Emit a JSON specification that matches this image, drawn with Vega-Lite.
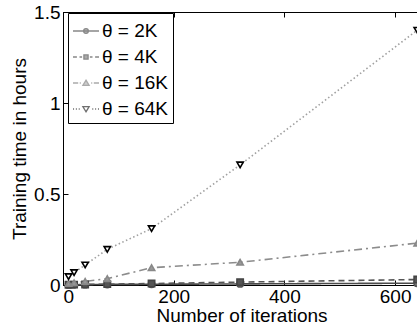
{
  "$schema": "https://vega.github.io/schema/vega-lite/v6.json",
  "width": 357,
  "height": 273,
  "autosize": "none",
  "padding": {"left": 63, "top": 12, "right": 0, "bottom": 46},
  "config": {
    "view": {"stroke": "black", "strokeWidth": 1},
    "font": "Liberation Sans",
    "axis": {
      "domainColor": "black", "tickColor": "black", "labelColor": "black", "titleColor": "black",
      "labelFont": "Liberation Sans", "titleFont": "Liberation Sans", "labelFontSize": 19, "titleFontSize": 19,
      "titleFontWeight": "normal", "grid": false, "tickSize": -5, "domainWidth": 1
    }
  },
  "data": {"values": [
    {"x": 10, "y": 0.0005, "series": "2K"}, {"x": 20, "y": 0.001, "series": "2K"}, {"x": 40, "y": 0.002, "series": "2K"}, {"x": 80, "y": 0.003, "series": "2K"}, {"x": 160, "y": 0.004, "series": "2K"}, {"x": 320, "y": 0.006, "series": "2K"}, {"x": 640, "y": 0.01, "series": "2K"},
    {"x": 10, "y": 0.001, "series": "4K"}, {"x": 20, "y": 0.002, "series": "4K"}, {"x": 40, "y": 0.003, "series": "4K"}, {"x": 80, "y": 0.005, "series": "4K"}, {"x": 160, "y": 0.008, "series": "4K"}, {"x": 320, "y": 0.016, "series": "4K"}, {"x": 640, "y": 0.03, "series": "4K"},
    {"x": 10, "y": 0.008, "series": "16K"}, {"x": 20, "y": 0.012, "series": "16K"}, {"x": 40, "y": 0.02, "series": "16K"}, {"x": 80, "y": 0.035, "series": "16K"}, {"x": 160, "y": 0.095, "series": "16K"}, {"x": 320, "y": 0.125, "series": "16K"}, {"x": 640, "y": 0.23, "series": "16K"},
    {"x": 10, "y": 0.046, "series": "64K"}, {"x": 20, "y": 0.068, "series": "64K"}, {"x": 40, "y": 0.11, "series": "64K"}, {"x": 80, "y": 0.196, "series": "64K"}, {"x": 160, "y": 0.31, "series": "64K"}, {"x": 320, "y": 0.66, "series": "64K"}, {"x": 640, "y": 1.4, "series": "64K"}
  ]},
  "resolve": {
    "scale": {"shape": "independent", "stroke": "independent", "fill": "independent", "color": "independent", "strokeDash": "independent"},
    "axis": {"x": "independent", "y": "independent"},
    "legend": {"shape": "independent", "stroke": "independent", "fill": "independent", "color": "independent", "strokeDash": "independent"}
  },
  "layer": [
    {
      "mark": {"type": "line", "strokeWidth": 1.6},
      "encoding": {
        "x": {"field": "x", "type": "quantitative", "scale": {"domain": [0, 645], "nice": false, "zero": false},
              "axis": {"values": [0, 200, 400, 600], "title": "Number of iterations", "titlePadding": 0, "labelPadding": 7, "domain": true}},
        "y": {"field": "y", "type": "quantitative", "scale": {"domain": [0, 1.5], "nice": false},
              "axis": {"values": [0, 0.5, 1, 1.5], "format": "~g", "title": "Training time in hours", "titlePadding": 4, "labelPadding": 8}},
        "color": {"field": "series", "type": "nominal", "scale": {"domain": ["2K", "4K", "16K", "64K"], "range": ["#4a4a4a", "#555555", "#8c8c8c", "#a0a0a0"]}, "legend": null},
        "strokeDash": {"field": "series", "type": "nominal", "scale": {"domain": ["2K", "4K", "16K", "64K"], "range": [[1, 0], [6, 4], [8, 4, 2, 4], [1.5, 2.5]]}, "legend": null}
      }
    },
    {
      "mark": {"type": "point", "filled": false, "strokeWidth": 1.6, "opacity": 1},
      "encoding": {
        "x": {"field": "x", "type": "quantitative", "scale": {"domain": [0, 645], "nice": false, "zero": false},
              "axis": {"orient": "top", "values": [0, 200, 400, 600], "labels": false, "title": null, "domain": false}},
        "y": {"field": "y", "type": "quantitative", "scale": {"domain": [0, 1.5], "nice": false}, "axis": null},
        "shape": {"field": "series", "type": "nominal", "scale": {"domain": ["2K", "4K", "16K", "64K"], "range": ["circle", "square", "triangle-up", "triangle-down"]}, "legend": null},
        "fill": {"field": "series", "type": "nominal", "scale": {"domain": ["2K", "4K", "16K", "64K"], "range": ["#777777", "#555555", "#999999", "#ffffff"]}, "legend": null},
        "stroke": {"field": "series", "type": "nominal", "scale": {"domain": ["2K", "4K", "16K", "64K"], "range": ["#555555", "#444444", "#888888", "#000000"]}, "legend": null},
        "size": {"value": 40}
      }
    },
    {
      "transform": [{"filter": "datum.x < 0"}],
      "mark": {"type": "point", "filled": false, "strokeWidth": 1.2},
      "encoding": {
        "x": {"field": "x", "type": "quantitative", "scale": {"domain": [0, 645], "nice": false, "zero": false}, "axis": null},
        "y": {"field": "y", "type": "quantitative", "scale": {"domain": [0, 1.5], "nice": false}, "axis": null},
        "shape": {"field": "series", "type": "nominal",
          "scale": {"domain": ["2K", "4K", "16K", "64K"], "range": [
            "M-1,0H1M0.18,0A0.18,0.18 0 1,1 -0.18,0A0.18,0.18 0 1,1 0.18,0Z",
            "M-1,0H-0.7M-0.5,0H-0.3M0.3,0H0.5M0.7,0H1M-0.16,-0.16H0.16V0.16H-0.16Z",
            "M-1,0H-0.6M-0.48,0H-0.4M0.4,0H0.48M0.6,0H1M0,-0.22L0.24,0.18L-0.24,0.18Z",
            "M-1,0H-0.92M-0.78,0H-0.7M-0.56,0H-0.48M0.48,0H0.56M0.7,0H0.78M0.92,0H1M0,0.22L0.24,-0.18L-0.24,-0.18Z"
          ]},
          "legend": {"title": null, "orient": "none", "legendX": 5, "legendY": 1, "padding": 4, "strokeColor": "black", "fillColor": "white",
                     "symbolSize": 676, "symbolStrokeWidth": 1.3, "labelFontSize": 19, "labelFont": "Liberation Sans", "labelColor": "black",
                     "labelOffset": 2, "rowPadding": 2, "cornerRadius": 0, "labelExpr": "'θ = ' + datum.label"}},
        "stroke": {"field": "series", "type": "nominal", "scale": {"domain": ["2K", "4K", "16K", "64K"], "range": ["#555555", "#555555", "#888888", "#333333"]},
          "legend": {"title": null, "orient": "none", "legendX": 5, "legendY": 1, "padding": 4, "strokeColor": "black", "fillColor": "white",
                     "symbolSize": 676, "symbolStrokeWidth": 1.3, "labelFontSize": 19, "labelFont": "Liberation Sans", "labelColor": "black",
                     "labelOffset": 2, "rowPadding": 2, "cornerRadius": 0, "labelExpr": "'θ = ' + datum.label"}},
        "fill": {"field": "series", "type": "nominal", "scale": {"domain": ["2K", "4K", "16K", "64K"], "range": ["#777777", "#555555", "#999999", "#ffffff"]},
          "legend": {"title": null, "orient": "none", "legendX": 5, "legendY": 1, "padding": 4, "strokeColor": "black", "fillColor": "white",
                     "symbolSize": 676, "symbolStrokeWidth": 1.3, "labelFontSize": 19, "labelFont": "Liberation Sans", "labelColor": "black",
                     "labelOffset": 2, "rowPadding": 2, "cornerRadius": 0, "labelExpr": "'θ = ' + datum.label"}}
      }
    }
  ]
}
